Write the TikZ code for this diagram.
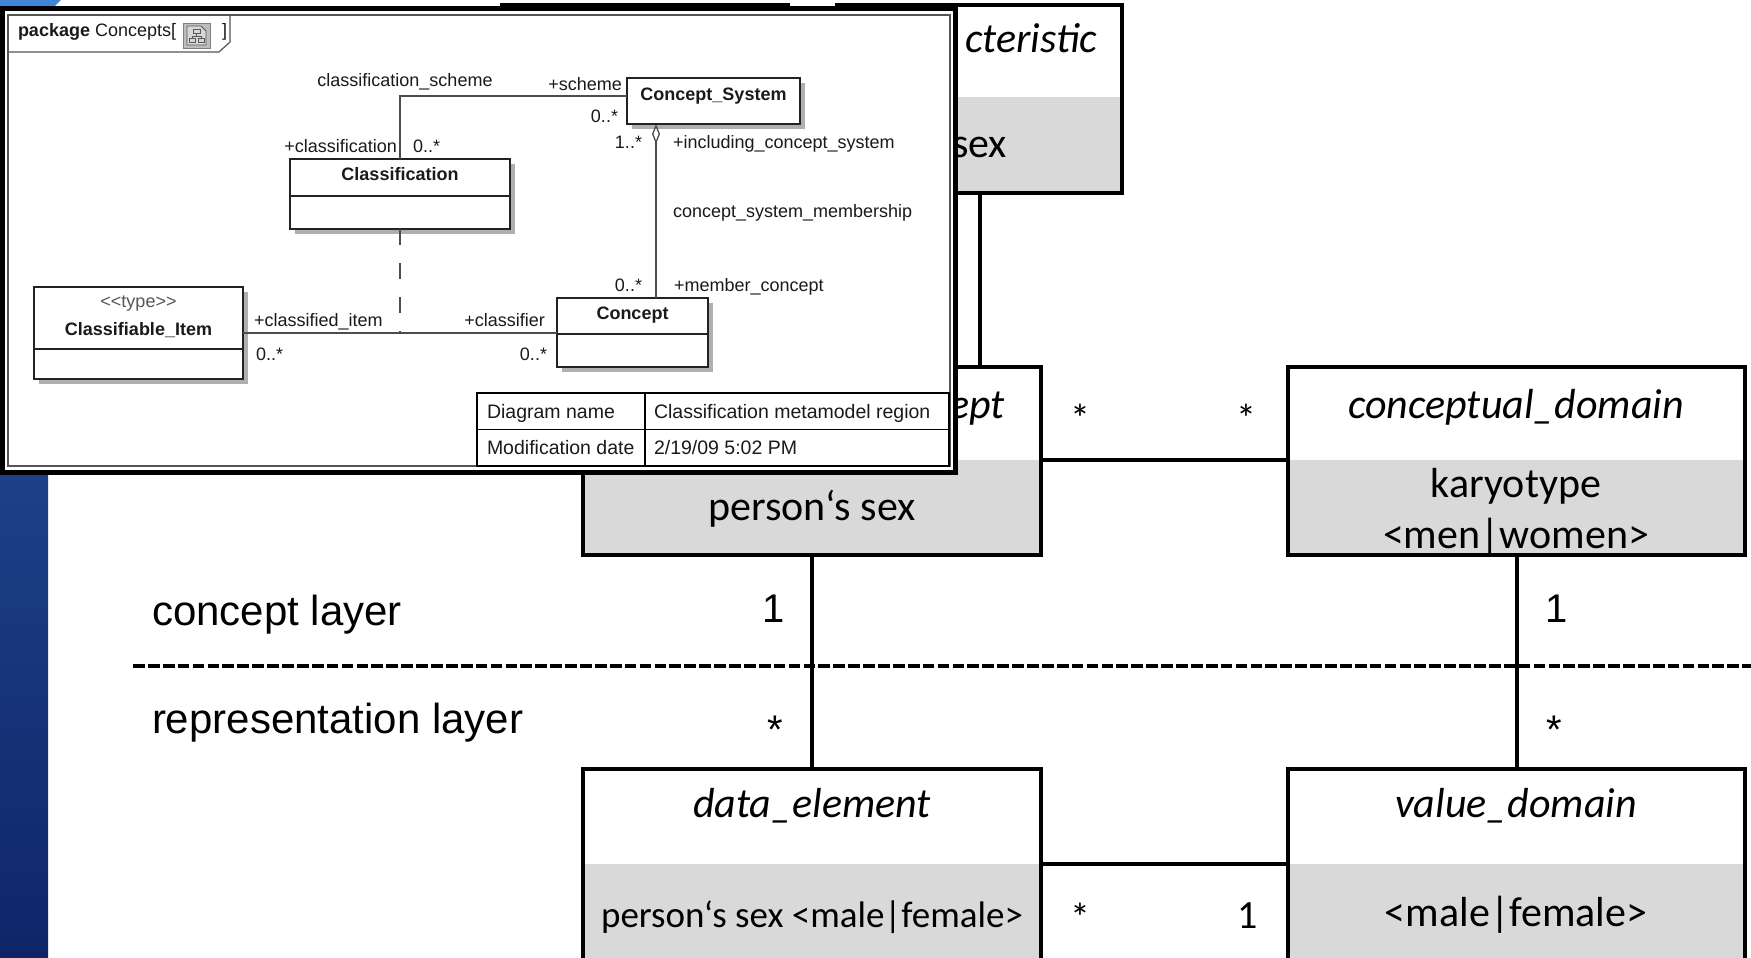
\documentclass[tikz,border=0pt]{standalone}
\usepackage{fontspec}
\setmainfont{Liberation Sans}
\newfontfamily\calfont{Carlito}
\usetikzlibrary{arrows.meta,calc,shadows}
\definecolor{boxgray}{HTML}{D9D9D9}
\definecolor{umltext}{HTML}{1A1A1A}
\definecolor{umlline}{HTML}{222222}
\definecolor{assocline}{HTML}{4D4D4D}
\definecolor{shadowgray}{HTML}{AFAFAF}
\definecolor{bluetop}{HTML}{2A5BA8}
\definecolor{bluebot}{HTML}{0F2568}
\definecolor{bluecorner}{HTML}{3F86D6}
\definecolor{pkgcol}{HTML}{555555}
\definecolor{icongray}{HTML}{BDBDBD}
\begin{document}
\begin{tikzpicture}[x=1pt,y=-1pt,
  txt/.style={inner sep=0pt,outer sep=0pt},
  bigbox/.style={draw=black,line width=4.5pt},
  hdrbox/.style={inner sep=0pt,outer sep=0pt,anchor=north west,fill=white},
  graybox/.style={inner sep=0pt,outer sep=0pt,anchor=north west,fill=boxgray},
  conn/.style={draw=black,line width=4pt},
  ttl/.style={txt,font=\calfont\itshape\fontsize{42}{50}\selectfont},
  val/.style={txt,font=\calfont\fontsize{42}{50}\selectfont},
  mult/.style={txt,font=\fontsize{40}{48}\selectfont},
  cmult/.style={txt,font=\calfont\fontsize{40}{48}\selectfont},
  layer/.style={txt,font=\fontsize{42}{50}\selectfont},
  uml/.style={txt,font=\fontsize{18}{22}\selectfont,text=umltext},
  umlb/.style={txt,font=\bfseries\fontsize{18}{22}\selectfont,text=umltext},
  tbltxt/.style={txt,font=\fontsize{19.5}{23}\selectfont,text=umltext},
  umlbox/.style={draw=umlline,line width=1.4pt,fill=white,inner sep=0pt,outer sep=0pt,anchor=north west,
     drop shadow={shadow xshift=5pt,shadow yshift=-5pt,fill=shadowgray,opacity=1}},
  assoc/.style={draw=assocline,line width=1.3pt},
  pkg/.style={draw=pkgcol,line width=1.2pt},
]
\useasboundingbox (0,0) rectangle (1751,958);
\clip (0,0) rectangle (1751,958);
\fill[white] (0,0) rectangle (1751,958);
% blue strip
\shade[top color=bluetop,bottom color=bluebot] (0,0) rectangle (48,958);
\fill[bluecorner] (0,0) -- (61,0) -- (53,8) -- (0,8) -- cycle;

% ---------- main diagram ----------
% hidden box behind the inset
\node[bigbox,fill=white,inner sep=0pt,outer sep=0pt,anchor=north west,minimum width=286pt,minimum height=188pt] (hid) at (502,5) {};
% characteristic
\node[hdrbox,minimum width=285pt,minimum height=92pt] (chh) at (837,5) {};
\node[graybox,minimum width=285pt,minimum height=96pt] (chb) at (837,97) {};
\draw[bigbox] (chh.north west) rectangle (chb.south east);
\node[ttl,anchor=base east] (cht) at (1097,53) {cteristic};
\node[val,anchor=base east] (chv) at (1007,157) {sex};

% data element concept
\node[hdrbox,minimum width=458pt,minimum height=93pt] (dech) at (583,367) {};
\node[graybox,minimum width=458pt,minimum height=95pt] (decb) at (583,460) {};
\draw[bigbox] (dech.north west) rectangle (decb.south east);
\node[ttl,anchor=base east] (dect) at (1005,418) {ept};
\node[val,anchor=base] (decv) at (812,520) {person‘s sex};

% conceptual domain
\node[hdrbox,minimum width=457pt,minimum height=93pt] (cdh) at (1288,367) {};
\node[graybox,minimum width=457pt,minimum height=95pt] (cdb) at (1288,460) {};
\draw[bigbox] (cdh.north west) rectangle (cdb.south east);
\node[ttl,anchor=base] (cdt) at (1516,418) {conceptual\_domain};
\node[val,anchor=base] (cdv1) at (1516,497) {karyotype};
\node[val,anchor=base] (cdv2) at (1516,548) {<men|women>};

% data element
\node[hdrbox,minimum width=458pt,minimum height=95pt] (deh) at (583,769) {};
\node[graybox,minimum width=458pt,minimum height=120pt] (deb) at (583,864) {};
\draw[bigbox] (deh.north west) rectangle (deb.south east);
\node[ttl,anchor=base] (det) at (812,817) {data\_element};
\node[val,font=\calfont\fontsize{37}{44}\selectfont,anchor=base] (dev) at (812,927) {person‘s sex <male|female>};

% value domain
\node[hdrbox,minimum width=457pt,minimum height=95pt] (vdh) at (1288,769) {};
\node[graybox,minimum width=457pt,minimum height=120pt] (vdb) at (1288,864) {};
\draw[bigbox] (vdh.north west) rectangle (vdb.south east);
\node[ttl,anchor=base] (vdt) at (1516,817) {value\_domain};
\node[val,anchor=base] (vdv) at (1516,926) {<male|female>};

% layer separator
\coordinate (dls) at (133,666);
\coordinate (dle) at (1755,666);
\draw[line width=4.5pt,dash pattern=on 11.7pt off 3.2pt] (dls) -- (dle);
\node[layer,anchor=base west] (lay1) at (152,625) {concept layer};
\node[layer,anchor=base west] (lay2) at (152,733) {representation layer};

% connectors
\draw[conn] (chb.south) -- (chb.south |- dech.north);
\draw[conn] (decb.north east) -- (cdb.north west);
\draw[conn] (decb.south) -- (deh.north);
\draw[conn] (cdb.south) -- (vdh.north);
\draw[conn] (deb.north east) -- (vdb.north west);

% multiplicities
\node[cmult] (m1) at (1080,418) {*};
\node[cmult] (m2) at (1246,418) {*};
\node[mult] (m3) at (774,609) {1};
\node[mult] (m4) at (775,730) {*};
\node[mult] (m5) at (1557,609) {1};
\node[mult] (m6) at (1554,730) {*};
\node[cmult] (m7) at (1080,917) {*};
\node[cmult] (m8) at (1248,916) {1};

% ---------- inset UML diagram ----------
\node[draw=black,line width=5pt,fill=white,inner sep=0pt,outer sep=0pt,anchor=north west,minimum width=953pt,minimum height=463pt] (inset) at (2.5,9) {};
\node[pkg,inner sep=0pt,outer sep=0pt,anchor=north west,minimum width=942pt,minimum height=451pt] (frame) at (8,15) {};
\draw[pkg] (8,52) -- (219,52) -- (230,42) -- (230,15);
\node[uml,anchor=base west] (pkgl) at (18,37) {\textbf{package} Concepts[};
% icon
\node[draw=gray,fill=icongray,inner sep=0pt,outer sep=0pt,anchor=north west,minimum width=27pt,minimum height=25pt] (icon) at (183,23) {};
\draw[draw=gray!70!black,line width=0.8pt,fill=icongray!60] (187,26) -- (201,26) -- (206,31) -- (206,45) -- (187,45) -- cycle;
\draw[draw=gray!70!black,line width=0.8pt] (193,29) rectangle (200,33) (189,38) rectangle (195,42) (198,38) rectangle (204,42)
  (196.5,33) -- (196.5,36) (192,36) -- (201,36) (192,36) -- (192,38) (201,36) -- (201,38);
\node[uml,anchor=base west] (pkgr) at (222,37) {]};

% classes
\node[umlbox,minimum width=173pt,minimum height=46pt] (cs) at (627,78) {};
\node[umlb,anchor=base] (cst) at (713.5,100) {Concept\_System};

\node[umlbox,minimum width=220pt,minimum height=70pt] (cl) at (290,159) {};
\draw[umlline,line width=1.4pt] ($(cl.north west)+(0,37)$) -- ($(cl.north east)+(0,37)$);
\node[umlb,anchor=base] (clt) at (400,180) {Classification};

\node[umlbox,minimum width=151pt,minimum height=69pt] (co) at (557,298) {};
\draw[umlline,line width=1.4pt] ($(co.north west)+(0,36)$) -- ($(co.north east)+(0,36)$);
\node[umlb,anchor=base] (cot) at (632.5,319) {Concept};

\node[umlbox,minimum width=209pt,minimum height=92pt] (ci) at (34,287) {};
\draw[umlline,line width=1.4pt] ($(ci.north west)+(0,62)$) -- ($(ci.north east)+(0,62)$);
\node[uml,text=pkgcol,anchor=base] (cis) at (138.5,307) {<{}<type>{}>};
\node[umlb,anchor=base] (cit) at (138.5,335) {Classifiable\_Item};

% associations
\draw[assoc] (cl.north) |- ([yshift=5pt]cs.west);
\coordinate (agtop) at ($(cs.south west)+(29,0)$);
\draw[assoc,{Diamond[open,length=20pt,width=8pt]}-] (agtop) -- (agtop |- co.north);
\draw[assoc] (ci.east) -- (ci.east -| co.west);
\draw[assoc,dash pattern=on 16pt off 18pt] (cl.south) -- (cl.south |- ci.east);

% association labels
\node[uml,anchor=base] (lcs) at (405,87) {classification\_scheme};
\node[uml,anchor=base east] (lsch) at (622,91) {+scheme};
\node[uml,anchor=base east] (lm1) at (618,122) {0..*};
\node[uml,anchor=base east] (lcla) at (397,152) {+classification};
\node[uml,anchor=base west] (lm2) at (413,152) {0..*};
\node[uml,anchor=base east] (lm3) at (642,148) {1..*};
\node[uml,anchor=base west] (linc) at (673,148) {+including\_concept\_system};
\node[uml,anchor=base west] (lcsm) at (673,217) {concept\_system\_membership};
\node[uml,anchor=base east] (lm4) at (642,291) {0..*};
\node[uml,anchor=base west] (lmem) at (674,291) {+member\_concept};
\node[uml,anchor=base west] (lci) at (254,326) {+classified\_item};
\node[uml,anchor=base west] (lm5) at (256,360) {0..*};
\node[uml,anchor=base east] (lclr) at (545,326) {+classifier};
\node[uml,anchor=base east] (lm6) at (547,360) {0..*};

% table
\node[draw=black,line width=2pt,inner sep=0pt,outer sep=0pt,anchor=north west,minimum width=472pt,minimum height=73pt] (tbl) at (477,393) {};
\draw[black,line width=1.5pt] (tbl.west) -- (tbl.east);
\draw[black,line width=1.5pt] ($(tbl.north west)+(168,0)$) -- ($(tbl.south west)+(168,0)$);
\node[tbltxt,anchor=base west] (t1) at (487,418) {Diagram name};
\node[tbltxt,anchor=base west] (t2) at (654,418) {Classification metamodel region};
\node[tbltxt,anchor=base west] (t3) at (487,454) {Modification date};
\node[tbltxt,anchor=base west] (t4) at (654,454) {2/19/09 5:02 PM};
\end{tikzpicture}
\end{document}
